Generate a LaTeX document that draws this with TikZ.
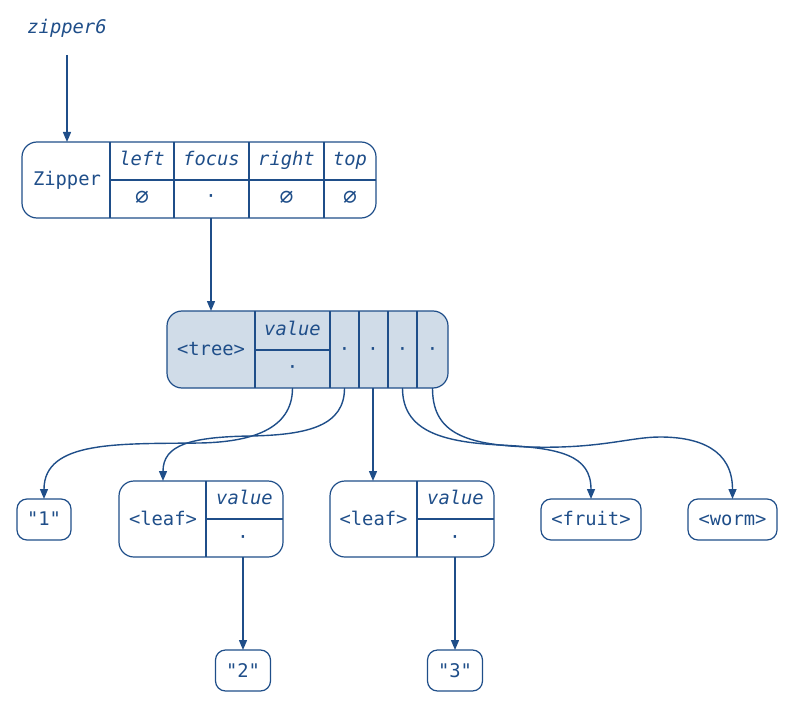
\documentclass[tikz,border=0pt]{standalone}
\usepackage{fontspec}
\setmonofont{DejaVu Sans Mono}
\usetikzlibrary{arrows.meta}
\definecolor{ink}{HTML}{1F4E89}
\definecolor{treefill}{HTML}{D0DCE8}
\newcommand{\nullsym}{{\fontsize{23}{22}\selectfont ∅}}
\begin{document}
\begin{tikzpicture}[x=1pt,y=-1pt,
  txt/.style={anchor=base, inner sep=0pt, text=ink, font=\ttfamily\fontsize{18.8}{22}\selectfont},
  itx/.style={txt, font=\ttfamily\itshape\fontsize{18.8}{22}\selectfont},
  rec/.style={draw=ink, line width=1.2pt, rounded corners=#1, anchor=north west, inner sep=0pt, outer sep=0pt},
  div/.style={draw=ink, line width=1.2pt},
  arr/.style={draw=ink, line width=1.4pt, -{Triangle[length=10pt,width=8pt]}}]
\useasboundingbox (0,0) rectangle (794,703);

% variable label
\node[itx] (z6) at (67,34) {zipper6};
\coordinate (z6a) at (67,55);

% Zipper record
\node[rec=15pt, minimum width=354pt, minimum height=76pt] (zip) at (22,142) {};
\draw[div] (110,142) -- (110,218);
\draw[div] (174,142) -- (174,218);
\draw[div] (249,142) -- (249,218);
\draw[div] (324,142) -- (324,218);
\draw[div] (110,180) -- (376,180);
\node[txt] (zname) at (67,186) {Zipper};
\node[itx] (zl) at (142,166) {left};
\node[itx] (zf) at (211.5,166) {focus};
\node[itx] (zr) at (286.5,166) {right};
\node[itx] (zt) at (350,166) {top};
\node[txt] (zlv) at (142,205) {\nullsym};
\node[txt] (zfv) at (211,203) {·};
\node[txt] (zrv) at (286.5,205) {\nullsym};
\node[txt] (ztv) at (350,205) {\nullsym};

% tree record
\node[rec=15pt, fill=treefill, minimum width=281pt, minimum height=77pt] (tree) at (167,311) {};
\draw[div] (255,311) -- (255,388);
\draw[div] (330,311) -- (330,388);
\draw[div] (359,311) -- (359,388);
\draw[div] (388,311) -- (388,388);
\draw[div] (417,311) -- (417,388);
\draw[div] (255,350) -- (330,350);
\node[txt] (tname) at (211,355) {<tree>};
\node[itx] (tval) at (292.5,335) {value};
\node[txt] (tv) at (292.5,373) {·};
\node[txt] (t1) at (344.5,355) {·};
\node[txt] (t2) at (373,355) {·};
\node[txt] (t3) at (402.5,355) {·};
\node[txt] (t4) at (432.5,355) {·};

% bottom nodes
\node[rec=10pt, minimum width=54pt, minimum height=41pt] (n1) at (17,499) {};
\node[txt] at (n1.center |- 0,525) {"1"};

\node[rec=15pt, minimum width=164pt, minimum height=76pt] (leafA) at (119,481) {};
\draw[div] (206,481) -- (206,557);
\draw[div] (206,519) -- (283,519);
\node[txt] (laname) at (163,525) {<leaf>};
\node[itx] (laval) at (244.5,504) {value};
\node[txt] (lav) at (243,543) {·};

\node[rec=15pt, minimum width=164pt, minimum height=76pt] (leafB) at (330,481) {};
\draw[div] (417,481) -- (417,557);
\draw[div] (417,519) -- (494,519);
\node[txt] (lbname) at (373.5,525) {<leaf>};
\node[itx] (lbval) at (455.5,504) {value};
\node[txt] (lbv) at (455,543) {·};

\node[rec=10pt, minimum width=100pt, minimum height=41pt] (fruit) at (541,499) {};
\node[txt] at (fruit.center |- 0,525) {<fruit>};
\node[rec=10pt, minimum width=89pt, minimum height=41pt] (worm) at (688,499) {};
\node[txt] at (worm.center |- 0,525) {<worm>};

\node[rec=10pt, minimum width=55pt, minimum height=41pt] (n2) at (215.5,650) {};
\node[txt] at (n2.center |- 0,677) {"2"};
\node[rec=10pt, minimum width=55pt, minimum height=41pt] (n3) at (427.5,650) {};
\node[txt] at (n3.center |- 0,677) {"3"};

% connectors
\draw[arr] (z6a) -- (zip.north -| z6a);
\draw[arr] (zfv |- zip.south) -- (tree.north -| zfv);

\draw[arr] (tv |- tree.south) .. controls (292.5,430) and (250,442) .. (200,443)
  .. controls (120,444) and (44,440) .. (n1.north);
\draw[arr] (t1 |- tree.south) .. controls (344.5,425) and (310,435) .. (250,436)
  .. controls (190,437) and (163,445) .. (leafA.north -| laname);
\draw[arr] (t2 |- tree.south) -- (leafB.north -| t2);
\draw[arr] (t3 |- tree.south) .. controls (402.5,430) and (440,442) .. (500,445)
  .. controls (560,448) and (591,455) .. (fruit.north);
\draw[arr] (t4 |- tree.south) .. controls (432.5,430) and (460,445) .. (530,447)
  .. controls (600,449) and (630,437) .. (660,437)
  .. controls (700,437) and (732.5,450) .. (worm.north);

\draw[arr] (lav |- leafA.south) -- (lav |- n2.north);
\draw[arr] (lbv |- leafB.south) -- (lbv |- n3.north);
\end{tikzpicture}
\end{document}
